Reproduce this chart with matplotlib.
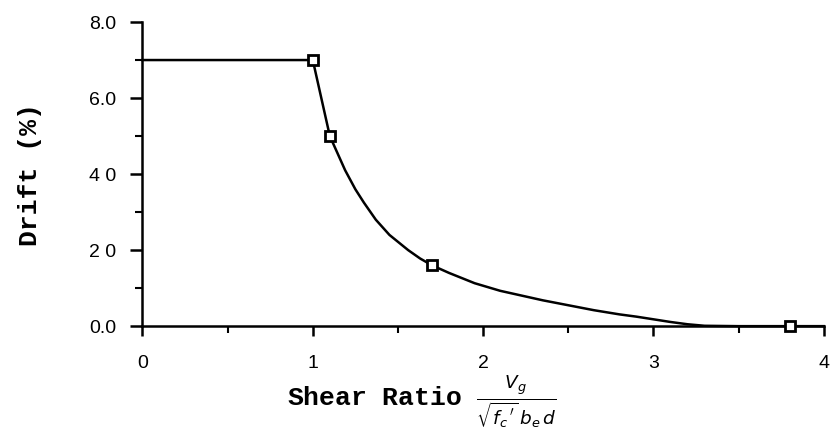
import numpy as np
import matplotlib.pyplot as plt
from matplotlib.ticker import MultipleLocator

# Test points (shear ratio vs drift %)
test_ratio = [1.0, 1.1, 1.7, 3.8]
test_drift = [7.0, 5.0, 1.6, 0.0]

# Fitted envelope curve
curve_ratio = [0.0, 1.0, 1.03, 1.06, 1.1, 1.15, 1.19, 1.25, 1.3, 1.37, 1.45,
               1.56, 1.63, 1.7, 1.8, 1.95, 2.1, 2.35, 2.5, 2.65, 2.8, 2.9,
               3.0, 3.1, 3.2, 3.3, 3.5, 4.0]
curve_drift = [7.0, 7.0, 6.4, 5.8, 5.0, 4.5, 4.1, 3.6, 3.25, 2.8, 2.4,
               2.0, 1.78, 1.6, 1.4, 1.13, 0.93, 0.68, 0.55, 0.42, 0.31, 0.25,
               0.18, 0.11, 0.05, 0.01, 0.0, 0.0]

y_ticks = [0, 2, 4, 6, 8]
y_labels = ['0.0', '2 0', '4 0', '6.0', '8.0']
x_ticks = [0, 1, 2, 3, 4]
x_labels = ['0', '1', '2', '3', '4']

fig = plt.figure(figsize=(8.33, 4.32), dpi=100)
ax = fig.add_axes([0.171, 0.245, 0.818, 0.704])

ax.plot(curve_ratio, curve_drift, color='black', lw=1.8, clip_on=False, zorder=2)
ax.plot(test_ratio, test_drift, linestyle='none', marker='s', markersize=7,
        markerfacecolor='white', markeredgecolor='black', markeredgewidth=2,
        clip_on=False, zorder=3)

ax.set_xlim(0, 4)
ax.set_ylim(0, 8)
ax.spines['top'].set_visible(False)
ax.spines['right'].set_visible(False)
ax.spines['left'].set_linewidth(1.8)
ax.spines['bottom'].set_linewidth(1.8)

ax.set_yticks(y_ticks)
ax.set_yticklabels(y_labels, fontfamily='Liberation Sans', fontsize=14)
ax.set_xticks(x_ticks)
ax.set_xticklabels(x_labels, fontfamily='Liberation Sans', fontsize=14)
ax.yaxis.set_minor_locator(MultipleLocator(1))
ax.xaxis.set_minor_locator(MultipleLocator(0.5))
ax.tick_params(axis='y', which='major', direction='out', length=9, width=1.8, pad=10)
ax.tick_params(axis='x', which='major', direction='out', length=7, width=1.8, pad=14)
ax.tick_params(axis='both', which='minor', direction='out', length=5, width=1.5)

ax.set_ylabel('Drift (%)', fontfamily='Liberation Mono', fontsize=19,
              fontweight='bold')
ax.yaxis.set_label_coords(-0.148, 0.5)
ax.set_xlabel(r"Shear Ratio $\frac{V_g}{\sqrt{f_c\,'}\,b_e\,d}$",
              fontfamily='Liberation Mono', fontsize=19, fontweight='bold')
ax.xaxis.set_label_coords(0.41, -0.152)

fig.savefig('out.png', dpi=100)
